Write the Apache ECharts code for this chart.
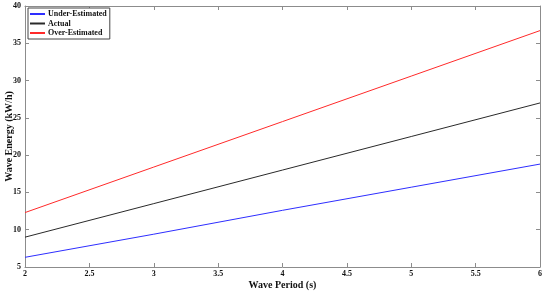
<!DOCTYPE html>
<html><head><meta charset="utf-8">
<script src="https://cdn.jsdelivr.net/npm/echarts@6/dist/echarts.min.js"></script>
<style>html,body{margin:0;padding:0;background:#fff}#c{width:550px;height:297px}</style>
</head><body><div id="c"></div>
<script>
const periods = [2, 3, 4, 5, 6];
const underEstimated = [6.3, 9.4, 12.6, 15.7, 18.8];
const actual = [9.0, 13.5, 18.0, 22.5, 27.0];
const overEstimated = [12.3, 18.4, 24.5, 30.6, 36.7];
const seriesNames = ['Under-Estimated', 'Actual', 'Over-Estimated'];
const colors = ['#2e2eff', '#2a2a2a', '#ff2a2a'];

const font = 'Liberation Serif';
const axisCol = '#8c8c8c';
function pairs(xs, ys){ return xs.map((x,i)=>[x, ys[i]]); }
const chart = echarts.init(document.getElementById('c'));
const baseAxis = {
  axisLine:{show:true, lineStyle:{color:axisCol, width:1}},
  axisTick:{show:true, inside:true, length:4, lineStyle:{color:axisCol}},
  splitLine:{show:false}
};
chart.setOption({
  animation:false,
  backgroundColor:'#fff',
  grid:{left:25, right:10, top:6, bottom:30, containLabel:false, outerBoundsMode:'none'},
  legend:{
    orient:'vertical', left:28, top:8, padding:[2,3,2,2], itemGap:1.5,
    itemWidth:15, itemHeight:2, borderColor:'#444', borderWidth:1,
    backgroundColor:'#fff',
    textStyle:{fontFamily:font, fontWeight:'bold', fontSize:8, color:'#111', padding:[0,0,0,-2]},
    data: seriesNames.map(n=>({name:n, icon:'rect'}))
  },
  xAxis:[
    Object.assign({type:'value', min:2, max:6, interval:0.5, position:'bottom',
      name:'Wave Period (s)', nameLocation:'middle', nameGap:13, nameMoveOverlap:false,
      nameTextStyle:{fontFamily:font, fontWeight:'bold', fontSize:10, color:'#111'},
      axisLabel:{fontFamily:font, fontWeight:'bold', fontSize:8, color:'#111', margin:3}
    }, baseAxis),
    Object.assign({type:'value', min:2, max:6, interval:0.5, position:'top', axisLabel:{show:false}}, baseAxis)
  ],
  yAxis:[
    Object.assign({type:'value', min:5, max:40, interval:5, position:'left',
      name:'Wave Energy (kW/h)', nameLocation:'middle', nameGap:11, nameMoveOverlap:false,
      nameTextStyle:{fontFamily:font, fontWeight:'bold', fontSize:10, color:'#111'},
      axisLabel:{fontFamily:font, fontWeight:'bold', fontSize:8, color:'#111', margin:4}
    }, baseAxis),
    Object.assign({type:'value', min:5, max:40, interval:5, position:'right', axisLabel:{show:false}}, baseAxis)
  ],
  series:[underEstimated, actual, overEstimated].map((d,i)=>({
    name:seriesNames[i], type:'line', data:pairs(periods, d), showSymbol:false,
    lineStyle:{color:colors[i], width:1}, itemStyle:{color:colors[i]}
  }))
});
</script></body></html>
